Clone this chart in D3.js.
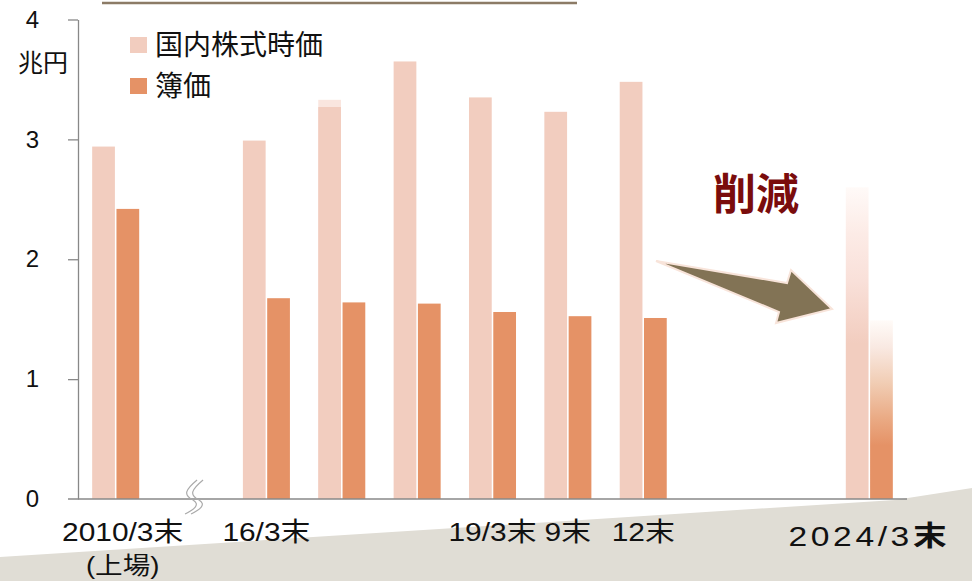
<!DOCTYPE html>
<html><head><meta charset="utf-8">
<script src="https://cdn.jsdelivr.net/npm/d3@7"></script>
<style>
html,body{margin:0;padding:0;background:#fff;}
svg{display:block;}
text{font-family:"Liberation Sans",Arial,"Noto Sans CJK JP",sans-serif;}
</style></head>
<body>
<svg id="chart" width="972" height="581"></svg>
<script>
// ---- data ----
const categories = ["2010/3","break","16/3","17/3","18/3","19/3","19/9","19/12","gapA","gapB","2024/3"];
const categoryLabels = ["2010/3末","","16/3末","","","19/3末","9末","12末","","","2024/3末"];
const marketValue = [2.94,null,2.99,3.27,3.65,3.35,3.23,3.48,null,null,2.60];
const bookValue   = [2.42,null,1.675,1.64,1.63,1.56,1.525,1.51,null,null,1.49];
const marketGhost = [null,null,null,3.33,null,null,null,null,null,null,null];
const seriesNames = ["国内株式時価","簿価"];
const yTicks = [0,1,2,3,4];

const colLight = "#F2CDBF", colDark = "#E59266";

const svg = d3.select("#chart");

// background shape
svg.append("path")
  .attr("d","M0,557 L895,500 L972,488 L972,581 L0,581 Z")
  .attr("fill","#E0DDD5");

// top line
svg.append("line").attr("x1",102).attr("x2",577).attr("y1",3).attr("y2",3)
  .attr("stroke","#8C7B66").attr("stroke-width",2.5);

const x0 = d3.scaleBand().domain(categories).range([78,907]).paddingInner(0.376).paddingOuter(0.188);
const x1 = d3.scaleBand().domain(["m","b"]).range([0,x0.bandwidth()]).paddingInner(0.064);
const y = d3.scaleLinear().domain([0,4]).range([499,19.5]);

// gradients
const defs = svg.append("defs");
const g1 = defs.append("linearGradient").attr("id","gLight").attr("x1",0).attr("y1",0).attr("x2",0).attr("y2",1);
[[0,"#FFFAF8"],[0.15,"#FCEBE6"],[0.3,"#F9E0D9"],[0.5,colLight],[1,colLight]].forEach(s=>g1.append("stop").attr("offset",s[0]).attr("stop-color",s[1]));
const g2 = defs.append("linearGradient").attr("id","gDark").attr("x1",0).attr("y1",0).attr("x2",0).attr("y2",1);
[[0,"#FFFBF8"],[0.15,"#F9E9E2"],[0.35,"#F1CDB4"],[0.55,"#EAAA84"],[0.7,colDark],[1,colDark]].forEach(s=>g2.append("stop").attr("offset",s[0]).attr("stop-color",s[1]));

const last = categories.length-1;

// ghost caps
svg.append("g").selectAll("rect").data(categories.map((c,i)=>({c,v:marketGhost[i]})).filter(d=>d.v!=null))
  .join("rect")
  .attr("x",d=>x0(d.c)+x1("m")).attr("width",x1.bandwidth())
  .attr("y",d=>y(d.v)).attr("height",d=>y(0)-y(d.v))
  .attr("fill","#FAE6DF");

// market bars
svg.append("g").selectAll("rect").data(categories.map((c,i)=>({c,i,v:marketValue[i]})).filter(d=>d.v!=null))
  .join("rect")
  .attr("x",d=>x0(d.c)+x1("m")).attr("width",x1.bandwidth())
  .attr("y",d=>y(d.v)).attr("height",d=>y(0)-y(d.v))
  .attr("fill",d=>d.i===last?"url(#gLight)":colLight);

// book bars
svg.append("g").selectAll("rect").data(categories.map((c,i)=>({c,i,v:bookValue[i]})).filter(d=>d.v!=null))
  .join("rect")
  .attr("x",d=>x0(d.c)+x1("b")).attr("width",x1.bandwidth())
  .attr("y",d=>y(d.v)).attr("height",d=>y(0)-y(d.v))
  .attr("fill",d=>d.i===last?"url(#gDark)":colDark);

// y axis
const yAxis = svg.append("g").attr("transform","translate(78,0)")
  .call(d3.axisLeft(y).tickValues(yTicks).tickFormat(d3.format("d")).tickSize(10).tickSizeOuter(0).tickPadding(29));
yAxis.select(".domain").attr("stroke","#888").attr("stroke-width",1.3);
yAxis.selectAll(".tick line").attr("stroke","#888").attr("stroke-width",1.3);
yAxis.selectAll(".tick text").attr("font-size",24).attr("fill","#111")
  .attr("font-family",'"Liberation Sans",Arial,sans-serif');
yAxis.selectAll(".tick").filter(d=>d===0).select("line").remove();

// x axis line
svg.append("line").attr("x1",68).attr("x2",907).attr("y1",y(0)).attr("y2",y(0))
  .attr("stroke","#888").attr("stroke-width",1.3);

// unit
svg.append("text").attr("x",43).attr("y",72).attr("text-anchor","middle")
  .attr("font-size",25).attr("fill","#111").text("兆円");

// break mark
const bx = x0("break")+x0.bandwidth()/2;
[0,6].forEach(o=>{
  svg.append("path")
    .attr("d",`M${bx+o+6},480 C${bx+o-6},490 ${bx+o-8},495 ${bx+o+2},500 C${bx+o+10},505 ${bx+o+2},510 ${bx+o-6},514`)
    .attr("fill","none").attr("stroke","#aaa").attr("stroke-width",1.2);
});

// x labels
const lab = svg.append("g");
categories.forEach((c,i)=>{
  const t = categoryLabels[i];
  if(!t) return;
  const cx = x0(c)+x0.bandwidth()/2 + (i===0?7:0);
  if(i===last){
    const tx = lab.append("text").attr("transform",`translate(${cx},546) scale(1.2,1)`)
      .attr("text-anchor","middle").attr("font-size",28).attr("letter-spacing",3).attr("fill","#111");
    tx.append("tspan").text(t.slice(0,-1));
    tx.append("tspan").attr("font-weight","bold").text(t.slice(-1));
  } else {
    lab.append("text").attr("transform",`translate(${cx},541) scale(1.15,1)`)
      .attr("text-anchor","middle").attr("font-size",26).attr("fill","#111").text(t);
  }
  if(i===0){
    lab.append("text").attr("transform",`translate(${cx},574) scale(1.15,1)`)
      .attr("text-anchor","middle").attr("font-size",24).attr("fill","#111").text("(上場)");
  }
});

// legend
const leg = svg.append("g");
[colLight,colDark].forEach((col,i)=>{
  leg.append("rect").attr("x",130).attr("y",37+i*41).attr("width",17).attr("height",16).attr("fill",col);
  leg.append("text").attr("x",155).attr("y",45+i*41).attr("dy","0.36em")
    .attr("font-size",28).attr("fill","#111").text(seriesNames[i]);
});

// annotation
svg.append("text").attr("x",756).attr("y",210).attr("text-anchor","middle")
  .attr("font-size",43).attr("font-weight","bold").attr("fill","#7A0C0C")
  .attr("font-family",'"Noto Sans CJK JP",sans-serif').text("削減");

// arrow
svg.append("path")
  .attr("d","M656,261 L787,283 L791,270 L832,309 L776,323 L779,312 Z")
  .attr("fill","#827355").attr("stroke","#F8E4DA").attr("stroke-width",2).attr("stroke-linejoin","miter");
</script>
</body></html>
